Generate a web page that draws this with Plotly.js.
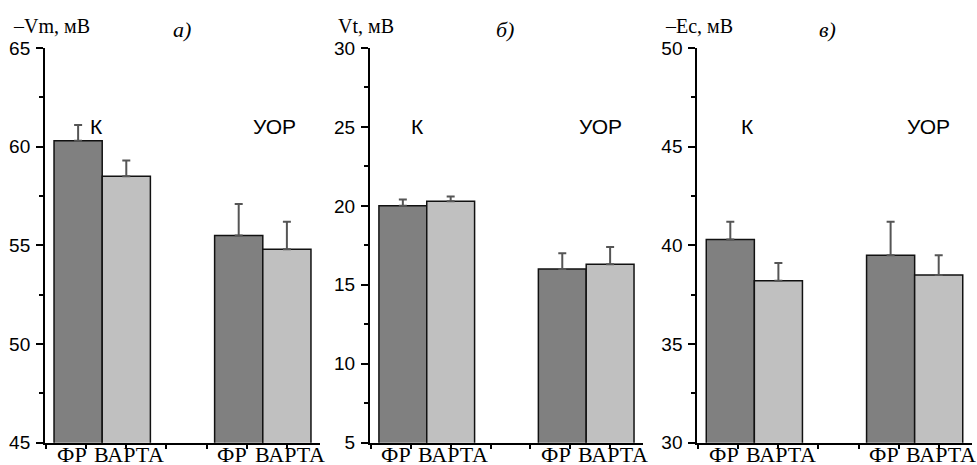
<!DOCTYPE html>
<html><head><meta charset="utf-8">
<script src="https://cdn.plot.ly/plotly-3.0.1.min.js"></script>
<style>html,body{margin:0;padding:0;background:#fff}#chart{width:977px;height:465px}</style>
</head><body><div id="chart"></div>
<script>
// ---- data ----
const groupNames = ['К', 'УОР'];
const seriesNames = ['ФР', 'ВАРТА'];
const groupPos = [0, 1];

const vmFR = [60.3, 55.5];   const vmFRerr = [0.8, 1.6];
const vmVA = [58.5, 54.8];   const vmVAerr = [0.8, 1.4];
const vtFR = [20.0, 16.0];   const vtFRerr = [0.4, 1.0];
const vtVA = [20.3, 16.3];   const vtVAerr = [0.3, 1.1];
const ecFR = [40.3, 39.5];   const ecFRerr = [0.9, 1.7];
const ecVA = [38.2, 38.5];   const ecVAerr = [0.9, 1.0];

const yTitles = ['–Vm, мВ', 'Vt, мВ', '–Ec, мВ'];
const panelLetters = ['а)', 'б)', 'в)'];
const yRanges = [[45, 65], [5, 30], [30, 50]];

// ---- layout helpers ----
const colors = ['#808080', '#c0c0c0'];
const serif = 'Liberation Serif, Times New Roman, serif';
const sans = 'Liberation Sans, Arial, sans-serif';
const panels = [
  {fr: vmFR, frE: vmFRerr, va: vmVA, vaE: vmVAerr},
  {fr: vtFR, frE: vtFRerr, va: vtVA, vaE: vtVAerr},
  {fr: ecFR, frE: ecFRerr, va: ecVA, vaE: ecVAerr}
];
const xDomains = [[0.0461, 0.3275], [0.3787, 0.6581], [0.7137, 0.9946]];
const yDomain = [0.048, 0.8968];

const traces = [];
const layout = {
  width: 977, height: 465,
  margin: {l: 0, r: 0, t: 0, b: 0},
  paper_bgcolor: '#fff', plot_bgcolor: 'rgba(0,0,0,0)',
  showlegend: false,
  barmode: 'group', bargap: 0.4, bargroupgap: 0,
  annotations: []
};

panels.forEach((p, i) => {
  const sfx = i === 0 ? '' : String(i + 1);
  const xa = 'x' + sfx, ya = 'y' + sfx;
  [[p.fr, p.frE], [p.va, p.vaE]].forEach((s, k) => {
    traces.push({
      type: 'bar', x: groupPos, y: s[0], name: seriesNames[k],
      xaxis: xa, yaxis: ya, offsetgroup: String(k),
      marker: {color: colors[k], line: {color: '#111', width: 1.5}},
      error_y: {type: 'data', array: s[1], arrayminus: s[1].map(() => 0), symmetric: false,
                color: '#555', thickness: 2, width: 4},
      hoverinfo: 'skip'
    });
  });
  layout['xaxis' + sfx] = {
    domain: xDomains[i], anchor: ya, range: [-0.356, 1.356],
    showgrid: false, zeroline: false, fixedrange: true,
    showline: true, linecolor: '#000', linewidth: 2,
    tickmode: 'linear', tick0: -0.1, dtick: 0.25, ticks: 'outside', ticklen: 4, tickwidth: 2, tickcolor: '#000',
    showticklabels: false,
    automargin: false
  };
  const r = yRanges[i];
  layout['yaxis' + sfx] = {
    domain: yDomain, anchor: xa, range: r,
    showgrid: false, zeroline: false, fixedrange: true,
    showline: true, linecolor: '#000', linewidth: 2,
    tickmode: 'linear', tick0: r[0], dtick: 5,
    ticks: 'outside', ticklen: 7, tickwidth: 2, tickcolor: '#000',
    ticklabelstandoff: 2,
    minor: {dtick: 2.5, ticks: 'outside', ticklen: 4, tickwidth: 2, tickcolor: '#000', showgrid: false},
    tickfont: {family: sans, size: 19, color: '#000'},
    automargin: false
  };
  // category labels under bars
  const labelOffsets = [-0.19, 0.167];
  groupPos.forEach(g => labelOffsets.forEach((o, k) => {
    layout.annotations.push({
      text: seriesNames[k], xref: xa, yref: 'paper', x: g + o, y: 0.053,
      xanchor: 'center', yanchor: 'top', showarrow: false,
      font: {family: serif, size: 22, color: '#000'}
    });
  }));
  // y title (top-left)
  layout.annotations.push({
    text: yTitles[i], xref: xa + ' domain', yref: 'paper', x: 0, y: 0.945,
    xanchor: 'left', yanchor: 'middle', xshift: -34, showarrow: false,
    font: {family: serif, size: 20, color: '#000'}
  });
  // panel letter
  layout.annotations.push({
    text: '<i>' + panelLetters[i] + '</i>', xref: xa + ' domain', yref: 'paper', x: 0, y: 0.937,
    xanchor: 'center', yanchor: 'middle', xshift: [137, 135, 130][i], showarrow: false,
    font: {family: serif, size: 22, color: '#000'}
  });
  // group labels
  const gOff = [[-0.035, 0.072], [-0.057, 0.087], [-0.04, 0.085]][i];
  groupNames.forEach((g, k) => {
    layout.annotations.push({
      text: g, xref: xa, yref: 'paper', x: groupPos[k] + gOff[k], y: 0.729,
      xanchor: 'center', yanchor: 'middle', showarrow: false,
      font: {family: sans, size: 21, color: '#000'}
    });
  });
});

Plotly.newPlot('chart', traces, layout, {staticPlot: true, displayModeBar: false});
</script>
</body></html>
